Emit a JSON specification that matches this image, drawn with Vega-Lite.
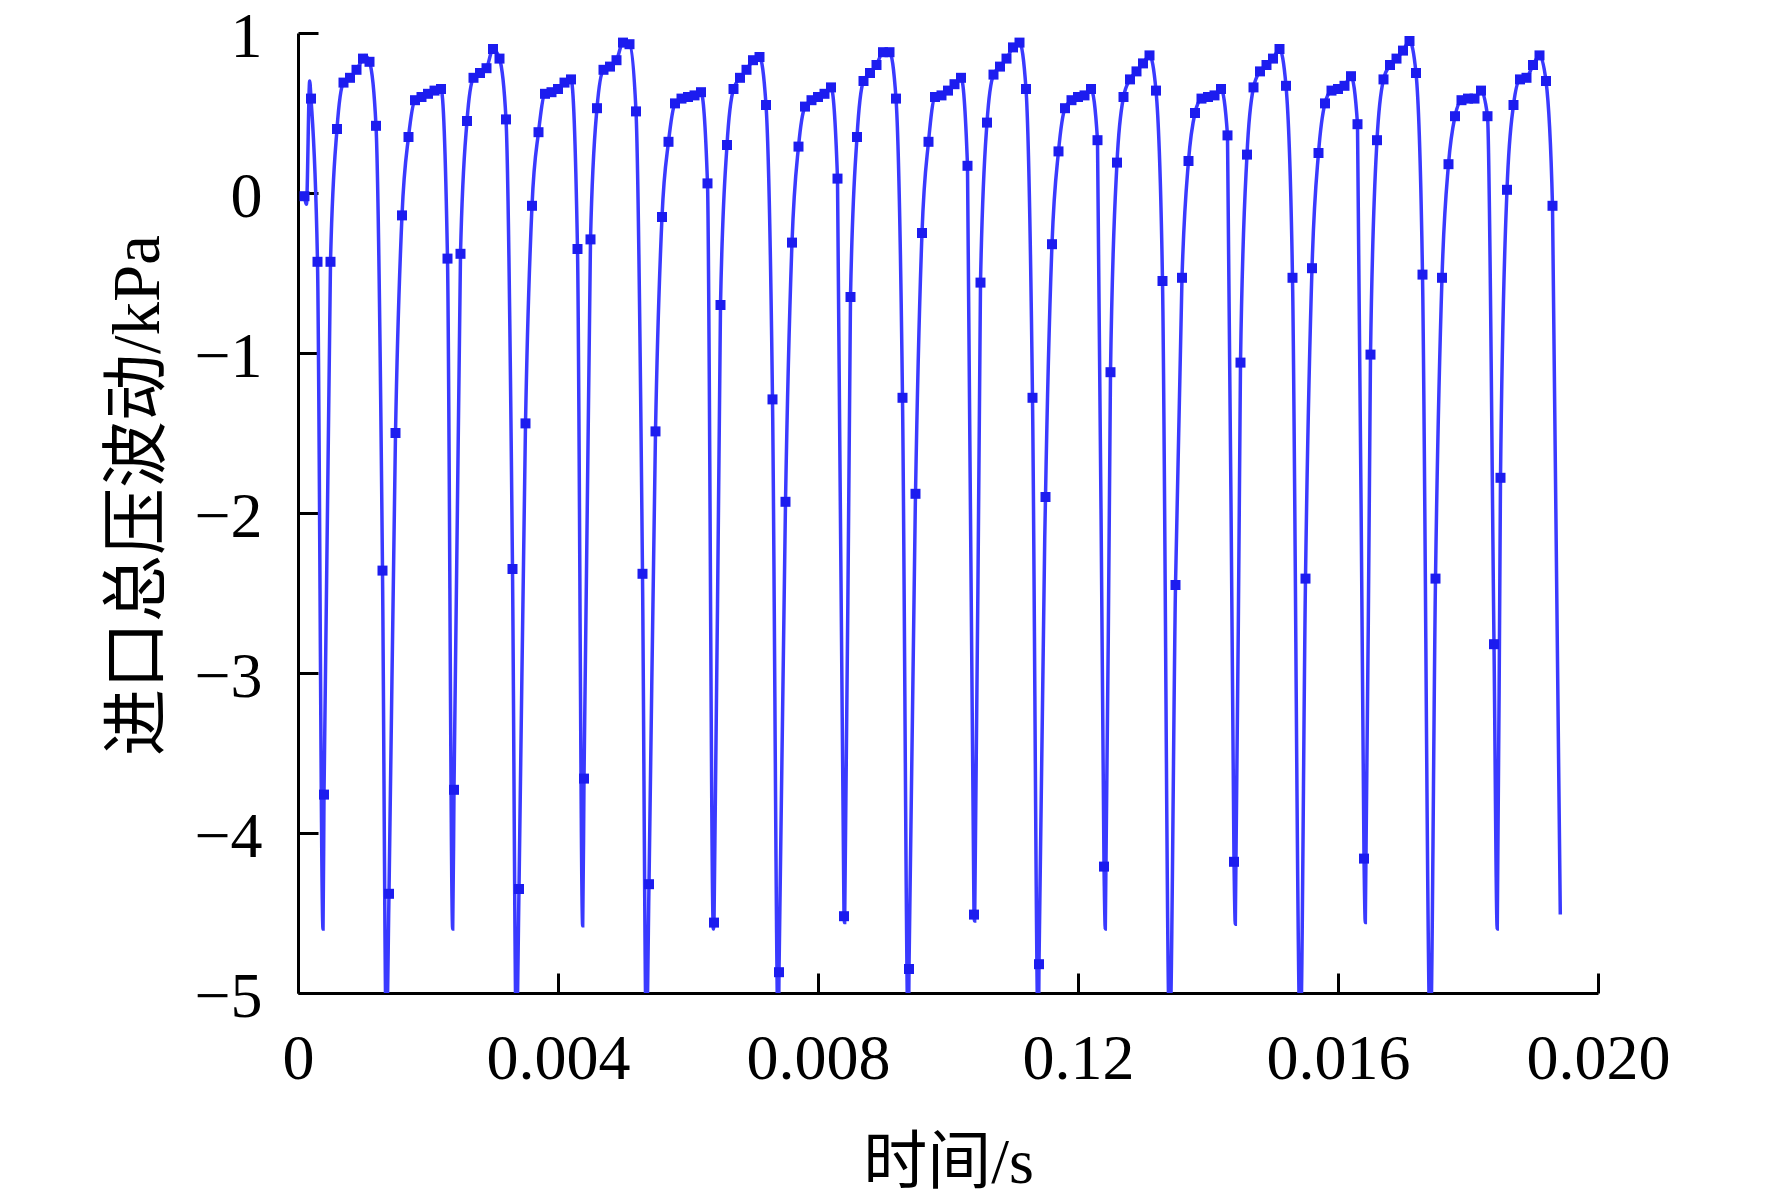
{
  "$schema": "https://vega.github.io/schema/vega-lite/v6.json",
  "description": "进口总压波动时间历程",
  "autosize": {"type": "none"},
  "padding": {"left": 298, "top": 33, "right": 174, "bottom": 208},
  "width": 1300,
  "height": 960,
  "background": "white",
  "config": {"view": {"stroke": null}, "font": "Liberation Serif"},
  "data": {
    "values": [
      {"t": 0.0001, "p": -0.02, "m": 1},
      {"t": 0.00013, "p": -0.07, "m": 0},
      {"t": 0.00018, "p": 0.70, "m": 0},
      {"t": 0.0002, "p": 0.59, "m": 1},
      {"t": 0.0003, "p": -0.43, "m": 1},
      {"t": 0.000385, "p": -4.6, "m": 0},
      {"t": 0.0004, "p": -3.76, "m": 1},
      {"t": 0.0005, "p": -0.43, "m": 1},
      {"t": 0.0006, "p": 0.40, "m": 1},
      {"t": 0.0007, "p": 0.69, "m": 1},
      {"t": 0.0008, "p": 0.72, "m": 1},
      {"t": 0.0009, "p": 0.77, "m": 1},
      {"t": 0.0010, "p": 0.84, "m": 1},
      {"t": 0.00103, "p": 0.86, "m": 0},
      {"t": 0.0011, "p": 0.82, "m": 1},
      {"t": 0.0012, "p": 0.42, "m": 1},
      {"t": 0.0013, "p": -2.36, "m": 1},
      {"t": 0.00136, "p": -5.3, "m": 0},
      {"t": 0.0014, "p": -4.38, "m": 1},
      {"t": 0.0015, "p": -1.50, "m": 1},
      {"t": 0.0016, "p": -0.14, "m": 1},
      {"t": 0.0017, "p": 0.35, "m": 1},
      {"t": 0.0018, "p": 0.58, "m": 1},
      {"t": 0.0019, "p": 0.60, "m": 1},
      {"t": 0.0020, "p": 0.62, "m": 1},
      {"t": 0.0021, "p": 0.64, "m": 1},
      {"t": 0.0022, "p": 0.65, "m": 1},
      {"t": 0.0023, "p": -0.41, "m": 1},
      {"t": 0.00238, "p": -4.6, "m": 0},
      {"t": 0.0024, "p": -3.73, "m": 1},
      {"t": 0.0025, "p": -0.38, "m": 1},
      {"t": 0.0026, "p": 0.45, "m": 1},
      {"t": 0.0027, "p": 0.72, "m": 1},
      {"t": 0.0028, "p": 0.75, "m": 1},
      {"t": 0.0029, "p": 0.78, "m": 1},
      {"t": 0.0030, "p": 0.90, "m": 1},
      {"t": 0.0031, "p": 0.84, "m": 1},
      {"t": 0.0032, "p": 0.46, "m": 1},
      {"t": 0.0033, "p": -2.35, "m": 1},
      {"t": 0.00336, "p": -5.3, "m": 0},
      {"t": 0.0034, "p": -4.35, "m": 1},
      {"t": 0.0035, "p": -1.44, "m": 1},
      {"t": 0.0036, "p": -0.08, "m": 1},
      {"t": 0.0037, "p": 0.38, "m": 1},
      {"t": 0.0038, "p": 0.62, "m": 1},
      {"t": 0.0039, "p": 0.63, "m": 1},
      {"t": 0.0040, "p": 0.65, "m": 1},
      {"t": 0.0041, "p": 0.69, "m": 1},
      {"t": 0.0042, "p": 0.71, "m": 1},
      {"t": 0.0043, "p": -0.35, "m": 1},
      {"t": 0.00438, "p": -4.58, "m": 0},
      {"t": 0.0044, "p": -3.66, "m": 1},
      {"t": 0.0045, "p": -0.29, "m": 1},
      {"t": 0.0046, "p": 0.53, "m": 1},
      {"t": 0.0047, "p": 0.77, "m": 1},
      {"t": 0.0048, "p": 0.79, "m": 1},
      {"t": 0.0049, "p": 0.83, "m": 1},
      {"t": 0.0050, "p": 0.94, "m": 1},
      {"t": 0.0051, "p": 0.93, "m": 1},
      {"t": 0.0052, "p": 0.51, "m": 1},
      {"t": 0.0053, "p": -2.38, "m": 1},
      {"t": 0.00536, "p": -5.3, "m": 0},
      {"t": 0.0054, "p": -4.32, "m": 1},
      {"t": 0.0055, "p": -1.49, "m": 1},
      {"t": 0.0056, "p": -0.15, "m": 1},
      {"t": 0.0057, "p": 0.32, "m": 1},
      {"t": 0.0058, "p": 0.56, "m": 1},
      {"t": 0.0059, "p": 0.59, "m": 1},
      {"t": 0.0060, "p": 0.60, "m": 1},
      {"t": 0.0061, "p": 0.61, "m": 1},
      {"t": 0.0062, "p": 0.63, "m": 1},
      {"t": 0.0063, "p": 0.06, "m": 1},
      {"t": 0.00639, "p": -4.6, "m": 0},
      {"t": 0.0064, "p": -4.56, "m": 1},
      {"t": 0.0065, "p": -0.70, "m": 1},
      {"t": 0.0066, "p": 0.30, "m": 1},
      {"t": 0.0067, "p": 0.65, "m": 1},
      {"t": 0.0068, "p": 0.72, "m": 1},
      {"t": 0.0069, "p": 0.77, "m": 1},
      {"t": 0.0070, "p": 0.83, "m": 1},
      {"t": 0.0071, "p": 0.85, "m": 1},
      {"t": 0.0072, "p": 0.55, "m": 1},
      {"t": 0.0073, "p": -1.29, "m": 1},
      {"t": 0.00739, "p": -5.3, "m": 0},
      {"t": 0.0074, "p": -4.87, "m": 1},
      {"t": 0.0075, "p": -1.93, "m": 1},
      {"t": 0.0076, "p": -0.31, "m": 1},
      {"t": 0.0077, "p": 0.29, "m": 1},
      {"t": 0.0078, "p": 0.54, "m": 1},
      {"t": 0.0079, "p": 0.58, "m": 1},
      {"t": 0.0080, "p": 0.60, "m": 1},
      {"t": 0.0081, "p": 0.62, "m": 1},
      {"t": 0.0082, "p": 0.66, "m": 1},
      {"t": 0.0083, "p": 0.09, "m": 1},
      {"t": 0.0084, "p": -4.52, "m": 1},
      {"t": 0.00841, "p": -4.56, "m": 0},
      {"t": 0.0085, "p": -0.65, "m": 1},
      {"t": 0.0086, "p": 0.35, "m": 1},
      {"t": 0.0087, "p": 0.70, "m": 1},
      {"t": 0.0088, "p": 0.75, "m": 1},
      {"t": 0.0089, "p": 0.80, "m": 1},
      {"t": 0.0090, "p": 0.88, "m": 1},
      {"t": 0.0091, "p": 0.88, "m": 1},
      {"t": 0.0092, "p": 0.59, "m": 1},
      {"t": 0.0093, "p": -1.28, "m": 1},
      {"t": 0.00939, "p": -5.3, "m": 0},
      {"t": 0.0094, "p": -4.85, "m": 1},
      {"t": 0.0095, "p": -1.88, "m": 1},
      {"t": 0.0096, "p": -0.25, "m": 1},
      {"t": 0.0097, "p": 0.32, "m": 1},
      {"t": 0.0098, "p": 0.60, "m": 1},
      {"t": 0.0099, "p": 0.61, "m": 1},
      {"t": 0.0100, "p": 0.64, "m": 1},
      {"t": 0.0101, "p": 0.68, "m": 1},
      {"t": 0.0102, "p": 0.72, "m": 1},
      {"t": 0.0103, "p": 0.17, "m": 1},
      {"t": 0.0104, "p": -4.51, "m": 1},
      {"t": 0.01041, "p": -4.55, "m": 0},
      {"t": 0.0105, "p": -0.56, "m": 1},
      {"t": 0.0106, "p": 0.44, "m": 1},
      {"t": 0.0107, "p": 0.74, "m": 1},
      {"t": 0.0108, "p": 0.79, "m": 1},
      {"t": 0.0109, "p": 0.84, "m": 1},
      {"t": 0.0110, "p": 0.91, "m": 1},
      {"t": 0.0111, "p": 0.94, "m": 1},
      {"t": 0.0112, "p": 0.65, "m": 1},
      {"t": 0.0113, "p": -1.28, "m": 1},
      {"t": 0.01139, "p": -5.3, "m": 0},
      {"t": 0.0114, "p": -4.82, "m": 1},
      {"t": 0.0115, "p": -1.90, "m": 1},
      {"t": 0.0116, "p": -0.32, "m": 1},
      {"t": 0.0117, "p": 0.26, "m": 1},
      {"t": 0.0118, "p": 0.53, "m": 1},
      {"t": 0.0119, "p": 0.58, "m": 1},
      {"t": 0.0120, "p": 0.60, "m": 1},
      {"t": 0.0121, "p": 0.61, "m": 1},
      {"t": 0.0122, "p": 0.65, "m": 1},
      {"t": 0.0123, "p": 0.33, "m": 1},
      {"t": 0.0124, "p": -4.21, "m": 1},
      {"t": 0.01242, "p": -4.6, "m": 0},
      {"t": 0.0125, "p": -1.12, "m": 1},
      {"t": 0.0126, "p": 0.19, "m": 1},
      {"t": 0.0127, "p": 0.60, "m": 1},
      {"t": 0.0128, "p": 0.71, "m": 1},
      {"t": 0.0129, "p": 0.76, "m": 1},
      {"t": 0.0130, "p": 0.81, "m": 1},
      {"t": 0.0131, "p": 0.86, "m": 1},
      {"t": 0.0132, "p": 0.64, "m": 1},
      {"t": 0.0133, "p": -0.55, "m": 1},
      {"t": 0.01341, "p": -5.3, "m": 0},
      {"t": 0.0135, "p": -2.45, "m": 1},
      {"t": 0.0136, "p": -0.53, "m": 1},
      {"t": 0.0137, "p": 0.20, "m": 1},
      {"t": 0.0138, "p": 0.50, "m": 1},
      {"t": 0.0139, "p": 0.59, "m": 1},
      {"t": 0.0140, "p": 0.60, "m": 1},
      {"t": 0.0141, "p": 0.61, "m": 1},
      {"t": 0.0142, "p": 0.65, "m": 1},
      {"t": 0.0143, "p": 0.36, "m": 1},
      {"t": 0.0144, "p": -4.18, "m": 1},
      {"t": 0.01442, "p": -4.57, "m": 0},
      {"t": 0.0145, "p": -1.06, "m": 1},
      {"t": 0.0146, "p": 0.24, "m": 1},
      {"t": 0.0147, "p": 0.66, "m": 1},
      {"t": 0.0148, "p": 0.76, "m": 1},
      {"t": 0.0149, "p": 0.80, "m": 1},
      {"t": 0.0150, "p": 0.84, "m": 1},
      {"t": 0.0151, "p": 0.90, "m": 1},
      {"t": 0.0152, "p": 0.67, "m": 1},
      {"t": 0.0153, "p": -0.53, "m": 1},
      {"t": 0.01542, "p": -5.3, "m": 0},
      {"t": 0.0155, "p": -2.41, "m": 1},
      {"t": 0.0156, "p": -0.47, "m": 1},
      {"t": 0.0157, "p": 0.25, "m": 1},
      {"t": 0.0158, "p": 0.56, "m": 1},
      {"t": 0.0159, "p": 0.64, "m": 1},
      {"t": 0.0160, "p": 0.65, "m": 1},
      {"t": 0.0161, "p": 0.67, "m": 1},
      {"t": 0.0162, "p": 0.73, "m": 1},
      {"t": 0.0163, "p": 0.43, "m": 1},
      {"t": 0.0164, "p": -4.16, "m": 1},
      {"t": 0.01642, "p": -4.56, "m": 0},
      {"t": 0.0165, "p": -1.01, "m": 1},
      {"t": 0.0166, "p": 0.33, "m": 1},
      {"t": 0.0167, "p": 0.71, "m": 1},
      {"t": 0.0168, "p": 0.80, "m": 1},
      {"t": 0.0169, "p": 0.84, "m": 1},
      {"t": 0.0170, "p": 0.89, "m": 1},
      {"t": 0.0171, "p": 0.95, "m": 1},
      {"t": 0.0172, "p": 0.75, "m": 1},
      {"t": 0.0173, "p": -0.51, "m": 1},
      {"t": 0.01742, "p": -5.3, "m": 0},
      {"t": 0.0175, "p": -2.41, "m": 1},
      {"t": 0.0176, "p": -0.53, "m": 1},
      {"t": 0.0177, "p": 0.18, "m": 1},
      {"t": 0.0178, "p": 0.48, "m": 1},
      {"t": 0.0179, "p": 0.58, "m": 1},
      {"t": 0.0180, "p": 0.59, "m": 1},
      {"t": 0.0181, "p": 0.59, "m": 1},
      {"t": 0.0182, "p": 0.64, "m": 1},
      {"t": 0.0183, "p": 0.48, "m": 1},
      {"t": 0.0184, "p": -2.82, "m": 1},
      {"t": 0.01845, "p": -4.6, "m": 0},
      {"t": 0.0185, "p": -1.78, "m": 1},
      {"t": 0.0186, "p": 0.02, "m": 1},
      {"t": 0.0187, "p": 0.55, "m": 1},
      {"t": 0.0188, "p": 0.71, "m": 1},
      {"t": 0.0189, "p": 0.72, "m": 1},
      {"t": 0.0190, "p": 0.80, "m": 1},
      {"t": 0.0191, "p": 0.86, "m": 1},
      {"t": 0.0192, "p": 0.70, "m": 1},
      {"t": 0.0193, "p": -0.08, "m": 1},
      {"t": 0.01942, "p": -4.51, "m": 0}
    ]
  },
  "encoding": {
    "x": {
      "field": "t",
      "type": "quantitative",
      "scale": {"domain": [0, 0.02], "nice": false, "zero": false},
      "axis": {
        "title": "时间/s",
        "values": [0, 0.004, 0.008, 0.012, 0.016, 0.02],
        "labelExpr": "datum.value == 0 ? '0' : abs(datum.value - 0.012) < 1e-9 ? '0.12' : format(datum.value, '.3f')",
        "grid": false,
        "domainColor": "black",
        "domainWidth": 3,
        "tickColor": "black",
        "tickWidth": 3,
        "tickSize": -20,
        "labelPadding": 54,
        "labelFont": "Liberation Serif",
        "labelFontSize": 64,
        "labelColor": "black",
        "labelFlush": false,
        "labelOverlap": false,
        "labelBaseline": "top",
        "titleFont": "Liberation Serif, Noto Sans CJK SC",
        "titleFontSize": 64,
        "titleFontWeight": "normal",
        "titleColor": "black",
        "titleX": 650,
        "titleY": 170,
        "titleBaseline": "middle",
        "titleAlign": "center"
      }
    },
    "y": {
      "field": "p",
      "type": "quantitative",
      "scale": {"domain": [-5, 1], "nice": false, "zero": false},
      "axis": {
        "title": "进口总压波动/kPa",
        "values": [-5, -4, -3, -2, -1, 0, 1],
        "grid": false,
        "domainColor": "black",
        "domainWidth": 3,
        "tickColor": "black",
        "tickWidth": 3,
        "tickSize": -20,
        "labelPadding": 56,
        "labelOffset": 4,
        "labelFont": "Liberation Serif",
        "labelFontSize": 64,
        "labelColor": "black",
        "labelFlush": false,
        "labelOverlap": false,
        "titleFont": "Liberation Serif, Noto Sans CJK SC",
        "titleFontSize": 67,
        "titleFontWeight": "normal",
        "titleColor": "black",
        "titleX": -160,
        "titleY": 462,
        "titleAngle": 270,
        "titleBaseline": "middle",
        "titleAlign": "center"
      }
    }
  },
  "layer": [
    {
      "mark": {"type": "line", "interpolate": "monotone", "color": "#3a3aff", "strokeWidth": 3.5, "clip": true}
    },
    {
      "transform": [{"filter": "datum.m == 1"}],
      "mark": {"type": "point", "shape": "square", "filled": true, "size": 100, "color": "#1c1cef", "opacity": 1}
    }
  ]
}
